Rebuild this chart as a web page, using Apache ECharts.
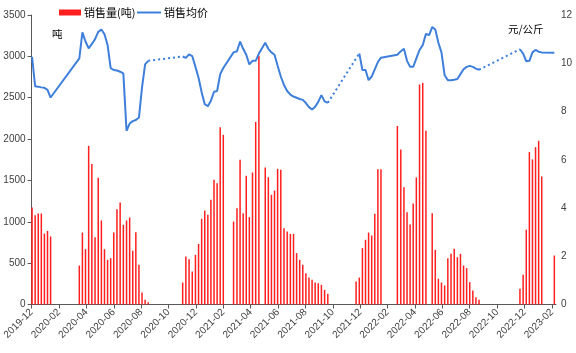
<!DOCTYPE html>
<html>
<head>
<meta charset="utf-8">
<script src="https://cdn.jsdelivr.net/npm/echarts@6.0.0/dist/echarts.min.js"></script>
<style>
html, body { margin: 0; padding: 0; background: #fff; }
#chart { width: 576px; height: 353px; }
</style>
</head>
<body>
<div id="chart"></div>
<script>
// 每段数据的第一周（周一），之后逐周排列
var segStarts = ['2019-12-02', '2020-03-16', '2020-11-02', '2021-11-22', '2022-02-21', '2022-11-21'];
// 该段之前的空档是否用虚线连接均价
var dottedBefore = [false, false, true, true, false, true];

var volume1 = [1173, 1080, 1100, 1100, 858, 890, 822];
var price1 = [10.27, 9.05, 9.03, 9.0, 8.98, 8.9, 8.58];

var volume2 = [471, 870, 669, 1918, 1700, 814, 1531, 1016, 669, 540, 560, 870, 1153, 1233, 963, 1016, 1052, 649, 875, 480, 145, 56, 28];
var price2 = [10.2, 11.28, 10.9, 10.62, 10.8, 11.0, 11.3, 11.4, 11.2, 10.76, 9.8, 9.72, 9.7, 9.65, 9.58, 7.2, 7.5, 7.6, 7.65, 7.75, 9.0, 9.95, 10.1];

var volume3 = [266, 580, 548, 399, 600, 733, 1036, 1136, 1084, 1265, 1507, 1467, 2144, 2051, null, null,
  1003, 1165, 1749, 1104, 1556, 1056, 1596, 2208, 3007, null,
  1656, 1539, 1326, 1378, 1640, 1628, 923, 883, 854, 854, 621, 540, 480, 379, 326, 298, 266, 258, 238, 177, 129];
var price3 = [10.28, 10.22, 10.37, 10.3, 9.85, 9.4, 8.8, 8.3, 8.22, 8.45, 8.82, 8.85, 9.55, 9.8, null, null,
  10.45, 10.5, 10.9, 10.6, 10.35, 9.95, 10.1, 10.1, 10.4, null,
  10.85, 10.6, 10.45, 10.35, 9.9, 9.45, 9.1, 8.85, 8.7, 8.62, 8.57, 8.52, 8.48, 8.35, 8.18, 8.08, 8.2, 8.4, 8.68, 8.42, 8.36];

var volume4 = [278, 326, 681, 782, 870, 834, 1096, 1636, 1636];
var price4 = [null, 10.41, 9.72, 9.72, 9.3, 9.45, 9.75, 10.05, 10.23];

var volume5 = [2158, 1875, 1418, 1115, 966, 1221, 1536, 2660, 2680, 2100, null, 1104, 661, 311, 266, 230, 560, 613, 673, 572, 613, 471, 440, 270, 169, 89, 56];
var price5 = [10.35, 10.5, 10.6, 10.1, 9.85, 9.85, 10.2, 10.55, 10.75, 11.22, 11.17, 11.5, 11.4, 10.85, 10.45, 9.5, 9.3, 9.3, 9.32, 9.35, 9.55, 9.75, 9.85, 9.89, 9.85, 9.78, 9.73];

var volume6 = [190, 360, 905, 1843, 1754, 1902, 1979, 1548, null, null, null, 592];
var price6 = [10.58, 10.4, 10.08, 10.1, 10.45, 10.55, 10.48, 10.45, null, null, null, 10.44];

var leftTicks = [0, 500, 1000, 1500, 2000, 2500, 3000, 3500];
var rightTicks = [0, 2, 4, 6, 8, 10, 12];

var volumes = [volume1, volume2, volume3, volume4, volume5, volume6];
var prices = [price1, price2, price3, price4, price5, price6];

var DAY = 86400000;

// 日期 -> 自 2019-12 起的月序号（带小数）
function monthPos(t) {
  var d = new Date(t);
  var y = d.getUTCFullYear(), m = d.getUTCMonth();
  var m0 = Date.UTC(y, m, 1), m1 = Date.UTC(y, m + 1, 1);
  return (y - 2019) * 12 + (m - 11) + (t - m0) / (m1 - m0);
}
function monthLabel(v) {
  var n = Math.round(v) + 11;
  var y = 2019 + Math.floor(n / 12), m = n % 12 + 1;
  return y + '-' + (m < 10 ? '0' + m : m);
}

var barData = [], lineData = [], dotData = [];
var lastPt = null;
segStarts.forEach(function (s, i) {
  var t0 = Date.parse(s + 'T00:00:00Z');
  var firstPt = null;
  if (dottedBefore[i] && lastPt) lineData.push([lastPt[0] + 0.01, null]);
  for (var k = 0; k < volumes[i].length; k++) {
    var x = monthPos(t0 + 7 * k * DAY);
    if (volumes[i][k] != null) barData.push([x, volumes[i][k]]);
    if (prices[i][k] != null) {
      lineData.push([x, prices[i][k]]);
      if (!firstPt) firstPt = [x, prices[i][k]];
    }
  }
  if (dottedBefore[i] && lastPt && firstPt) {
    dotData.push(lastPt, firstPt, [firstPt[0] + 0.001, null]);
  }
  for (var j = prices[i].length - 1; j >= 0; j--) {
    if (prices[i][j] != null) { lastPt = [monthPos(t0 + 7 * j * DAY), prices[i][j]]; break; }
  }
});

var monthTicks = [];
for (var mt = 0; mt <= 38; mt += 2) monthTicks.push(mt);

var chart = echarts.init(document.getElementById('chart'));
var font = 'Liberation Sans, Arial, sans-serif';
var cjk = 'Noto Sans CJK SC, sans-serif';
var blue = '#3f7fdc';

chart.setOption({
  animation: false,
  textStyle: { fontFamily: font },
  legend: [{
    left: 59, top: 7, padding: 0, itemWidth: 22, itemHeight: 6,
    textStyle: { fontSize: 11, fontFamily: cjk, color: '#000', padding: [0, 0, 0, -2] },
    data: [{ name: '销售量(吨)', icon: 'rect' }]
  }, {
    left: 137, top: 7, padding: 0, itemWidth: 24, itemHeight: 2,
    textStyle: { fontSize: 11, fontFamily: cjk, color: '#000', padding: [0, 0, 0, -2] },
    data: [{ name: '销售均价', icon: 'rect', itemStyle: { color: blue } }]
  }],
  grid: { left: 31, right: 20, top: 15, bottom: 48.5 },
  xAxis: {
    type: 'value', min: 0, max: 38.3,
    splitLine: { show: false },
    axisLine: { lineStyle: { color: '#595959', width: 1 } },
    axisTick: { length: 4, lineStyle: { color: '#595959' }, customValues: monthTicks },
    axisLabel: {
      rotate: 45, fontSize: 10, color: '#404040', margin: 6,
      customValues: monthTicks, formatter: monthLabel
    }
  },
  yAxis: [{
    type: 'value', min: 0, max: 3500, interval: 500,
    splitLine: { show: false },
    axisLine: { show: true, lineStyle: { color: '#595959' } },
    axisTick: { show: true, length: 4, lineStyle: { color: '#595959' } },
    axisLabel: { fontSize: 10, color: '#404040', margin: 6,
      customValues: leftTicks, formatter: function (v) { return String(v); } }
  }, {
    type: 'value', min: 0, max: 12, interval: 2,
    splitLine: { show: false },
    axisLine: { show: false },
    axisTick: { show: false },
    axisLabel: { fontSize: 10, color: '#404040', margin: 5,
      customValues: rightTicks, formatter: function (v) { return String(v); } }
  }],
  graphic: [
    { type: 'text', left: 52, top: 29, style: { text: '吨', fontSize: 10.5, fontFamily: cjk, fill: '#000' } },
    { type: 'text', left: 508, top: 24, style: { text: '元/公斤', fontSize: 10.5, fontFamily: cjk, fill: '#000' } }
  ],
  series: [{
    name: '销售量(吨)', type: 'bar', yAxisIndex: 0,
    barWidth: 1.5,
    itemStyle: { color: '#ff1f1f' },
    data: barData
  }, {
    name: '销售均价', type: 'line', yAxisIndex: 1,
    symbol: 'none', connectNulls: false,
    lineStyle: { color: blue, width: 2 },
    itemStyle: { color: blue },
    data: lineData
  }, {
    name: '均价连接', type: 'line', yAxisIndex: 1,
    symbol: 'none', connectNulls: false,
    lineStyle: { color: blue, width: 2, type: [2, 3] },
    data: dotData
  }]
});
</script>
</body>
</html>
